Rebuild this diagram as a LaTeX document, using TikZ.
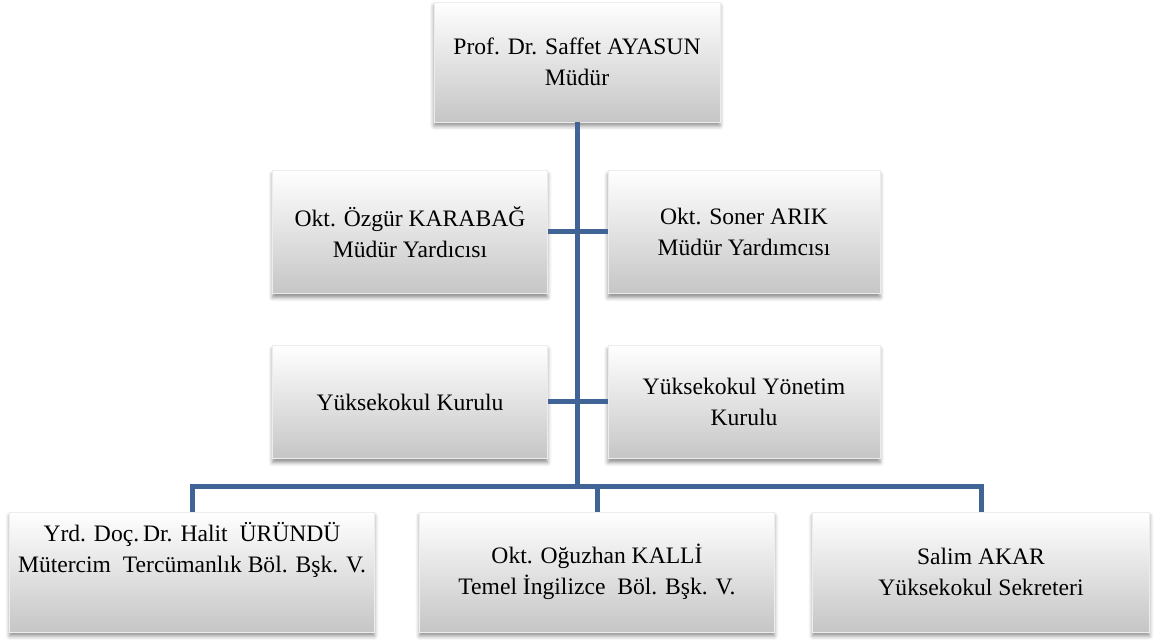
\documentclass[tikz,border=0pt]{standalone}
\usepackage{fontspec}
\setmainfont{Liberation Serif}
\usetikzlibrary{shadows.blur}
\definecolor{linkblue}{RGB}{64,100,150}

\begin{document}
\begin{tikzpicture}[x=1pt, y=1pt, node distance=170pt,
	box/.style={rectangle, align=center, top color=white, bottom color=gray!45, draw=gray!15, line width=0.8pt, blur shadow={shadow xshift=0pt, shadow yshift=-4pt, shadow blur radius=4pt, shadow opacity=45}, font=\fontsize{23.6}{31}\selectfont, inner sep=0pt},
	link/.style={draw=linkblue, line width=5pt}]
	\useasboundingbox (0,0) rectangle (1157,640);

	\node[box, minimum width=286pt, minimum height=120pt] at (577,578)(mudur) {Prof. Dr. Saffet AYASUN\\Müdür};
	\node[box, below of=mudur, xshift=-167pt, minimum width=275pt, minimum height=123pt](yard1) {Okt. Özgür KARABAĞ\\Müdür Yardıcısı};
	\node[box, below of=mudur, xshift=167pt, minimum width=272pt, minimum height=123pt](yard2) {Okt. Soner ARIK\\Müdür Yardımcısı};
	\node[box, below of=yard1, minimum width=275pt, minimum height=113pt](kurul) {Yüksekokul Kurulu};
	\node[box, below of=yard2, minimum width=272pt, minimum height=113pt](yonetim) {Yüksekokul Yönetim\\Kurulu};

	\node[box, below of=kurul, xshift=-218pt, minimum width=365pt, minimum height=120pt](mtb) {Yrd. Doç.\,Dr. Halit\enspace ÜRÜNDÜ\\Mütercim\enspace Tercümanlık Böl. Bşk. V.\\[18pt]\mbox{}};
	\node[box, below of=kurul, xshift=187pt, minimum width=355pt, minimum height=120pt](tib) {Okt. Oğuzhan KALLİ\\Temel İngilizce\enspace Böl. Bşk. V.};
	\node[box, below of=yonetim, xshift=237pt, minimum width=337pt, minimum height=120pt](sekreter) {Salim AKAR\\Yüksekokul Sekreteri};

	\coordinate (bus) at (577,153);

	\draw[link] (mudur.south) -- (bus);
	\draw[link] (yard1.east) -- (yard2.west);
	\draw[link] (kurul.east) -- (yonetim.west);
	\draw[link] (mtb.north) |- (bus) -| (sekreter.north);
	\draw[link] (tib.north) -- (tib.north |- bus);
\end{tikzpicture}
\end{document}
